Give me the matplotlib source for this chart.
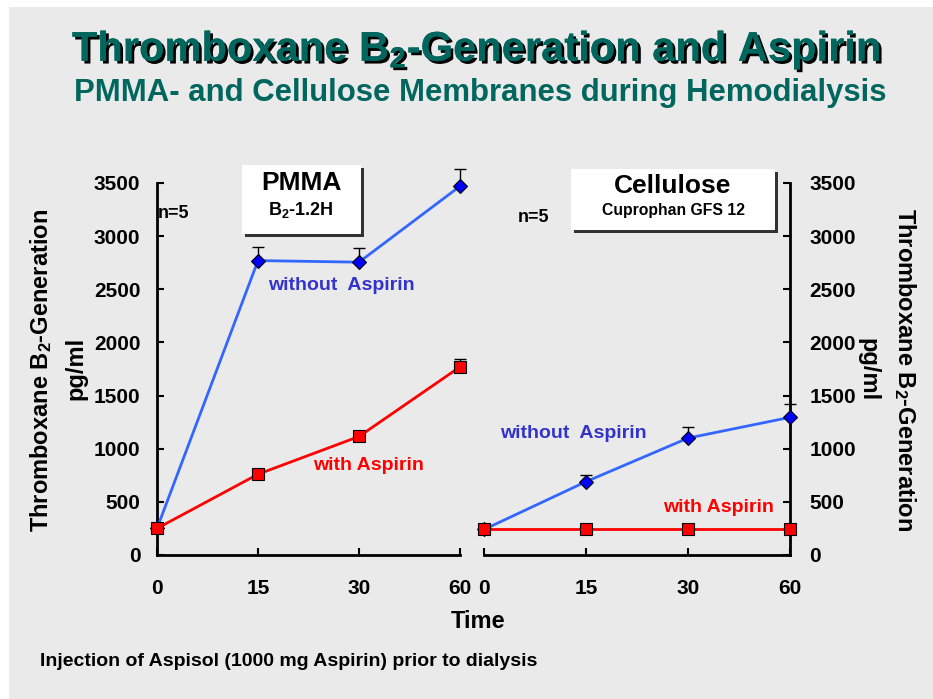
import numpy as np
import matplotlib
matplotlib.use("Agg")
from matplotlib import pyplot as plt
from matplotlib import font_manager
from matplotlib.patches import Rectangle
import matplotlib.patheffects as pe

# data
times = ["0", "15", "30", "60"]
pmma_without = [250, 2770, 2755, 3470]
pmma_without_err = [0, 130, 130, 165]
pmma_with = [250, 760, 1115, 1770]
pmma_with_err = [0, 0, 0, 75]
cell_without = [240, 690, 1100, 1295]
cell_without_err = [0, 60, 105, 125]
cell_with = [240, 240, 240, 240]
cell_with_err = [0, 0, 0, 0]
yticks = [0, 500, 1000, 1500, 2000, 2500, 3000, 3500]

names = {f.name for f in font_manager.fontManager.ttflist}
SANS = "Liberation Sans" if "Liberation Sans" in names else "DejaVu Sans"

plt.rcParams["font.family"] = SANS
plt.rcParams["font.weight"] = "bold"
plt.rcParams["mathtext.fontset"] = "custom"
plt.rcParams["mathtext.bf"] = SANS + ":bold"
plt.rcParams["mathtext.default"] = "bf"

BG = "#eaeaea"
TEAL = "#00665e"
BLUE_LINE = "#3366ff"
RED = "#ff0000"
W, H = 933, 699


def fx(px):
    return px / W


def fy(py):
    return 1 - py / H


fig = plt.figure(figsize=(W / 100, H / 100), dpi=100)
fig.patch.set_facecolor("white")
fig.patches.append(Rectangle((fx(9), 0), 1, fy(7), transform=fig.transFigure,
                             facecolor=BG, edgecolor="none", zorder=-10))

x = np.arange(len(times))


def draw_series(ax, y, err, color, marker, mfc, ms):
    ax.errorbar(x, y, yerr=[np.zeros(len(err)), err], fmt="none", ecolor="black",
                elinewidth=1, capsize=4, capthick=1, clip_on=False, zorder=2)
    ax.plot(x, y, color=color, lw=2, marker=marker, ms=ms, mfc=mfc,
            mec="black", mew=0.8, clip_on=False, zorder=3)


def style_axis(ax):
    ax.set_facecolor("none")
    ax.set_xlim(0, 3)
    ax.set_ylim(0, 3500)
    ax.set_xticks(x)
    ax.set_xticklabels(times)
    ax.set_yticks(yticks)
    ax.tick_params(axis="both", direction="in", length=5, width=1.5,
                   labelsize=15)
    ax.tick_params(axis="x", pad=17)
    ax.tick_params(axis="y", pad=12)
    for t in ax.get_xticklabels() + ax.get_yticklabels():
        t.set_fontweight("bold")
    ax.spines["top"].set_visible(False)
    for s in ax.spines.values():
        s.set_linewidth(2)


# left panel: PMMA
ax1 = fig.add_axes([fx(157), fy(555), fx(460) - fx(157), fy(183) - fy(555)])
style_axis(ax1)
ax1.spines["right"].set_visible(False)
draw_series(ax1, pmma_without, pmma_without_err, BLUE_LINE, "D", "#0000ff", 7)
draw_series(ax1, pmma_with, pmma_with_err, RED, "s", RED, 9)

# right panel: Cellulose
ax2 = fig.add_axes([fx(484), fy(555), fx(790) - fx(484), fy(183) - fy(555)])
style_axis(ax2)
ax2.spines["left"].set_visible(False)
ax2.yaxis.tick_right()
ax2.tick_params(axis="y", pad=14)
draw_series(ax2, cell_without, cell_without_err, BLUE_LINE, "D", "#0000ff", 7)
draw_series(ax2, cell_with, cell_with_err, RED, "s", RED, 9)

# titles
fig.text(fx(476), fy(50), "Thromboxane B$_2$-Generation and Aspirin", ha="center",
         va="center", fontsize=30, color=TEAL,
         path_effects=[pe.withSimplePatchShadow(offset=(2, -2),
                                                shadow_rgbFace="black", alpha=1),
                       pe.Normal()])
fig.text(fx(480), fy(93), "PMMA- and Cellulose Membranes during Hemodialysis",
         ha="center", va="center", fontsize=22.4, color=TEAL)

# axis labels
fig.text(fx(41), fy(370), "Thromboxane B$_2$-Generation", rotation=90,
         ha="center", va="center", fontsize=17)
fig.text(fx(76), fy(368), "pg/ml", rotation=90, ha="center", va="center",
         fontsize=17)
fig.text(fx(905), fy(370), "Thromboxane B$_2$-Generation", rotation=270,
         ha="center", va="center", fontsize=17)
fig.text(fx(868), fy(370), "pg/ml", rotation=270, ha="center", va="center",
         fontsize=17)
fig.text(fx(478), fy(621), "Time", ha="center", va="center", fontsize=17)
fig.text(fx(40), fy(661), "Injection of Aspisol (1000 mg Aspirin) prior to dialysis",
         ha="left", va="center", fontsize=14)

# membrane boxes
for (x0, y0, x1, y1) in [(242, 165, 361, 234), (571, 169, 775, 230)]:
    fig.patches.append(Rectangle((fx(x0 + 3), fy(y1 + 3)), fx(x1 - x0), fy(y0) - fy(y1),
                                 transform=fig.transFigure, facecolor="#333333",
                                 edgecolor="none", zorder=4))
    fig.patches.append(Rectangle((fx(x0), fy(y1)), fx(x1 - x0), fy(y0) - fy(y1),
                                 transform=fig.transFigure, facecolor="white",
                                 edgecolor="none", zorder=5))
fig.text(fx(301), fy(183), "PMMA", ha="center", va="center", fontsize=19, zorder=6)
fig.text(fx(301), fy(210), "B$_2$-1.2H", ha="center", va="center", fontsize=13, zorder=6)
fig.text(fx(673), fy(186), "Cellulose", ha="center", va="center", fontsize=19, zorder=6)
fig.text(fx(673), fy(211), "Cuprophan GFS 12", ha="center", va="center", fontsize=11.3,
         zorder=6)

# annotations
fig.text(fx(158), fy(214), "n=5", ha="left", va="center", fontsize=13)
fig.text(fx(518), fy(217), "n=5", ha="left", va="center", fontsize=13)
fig.text(fx(268), fy(286), "without  Aspirin", ha="left", va="center", fontsize=14,
         color="#3333cc")
fig.text(fx(313), fy(465), "with Aspirin", ha="left", va="center", fontsize=14,
         color=RED)
fig.text(fx(500), fy(434), "without  Aspirin", ha="left", va="center", fontsize=14,
         color="#3333cc")
fig.text(fx(663), fy(507), "with Aspirin", ha="left", va="center", fontsize=14,
         color=RED)

fig.savefig("out.png", dpi=100, facecolor=fig.get_facecolor())
